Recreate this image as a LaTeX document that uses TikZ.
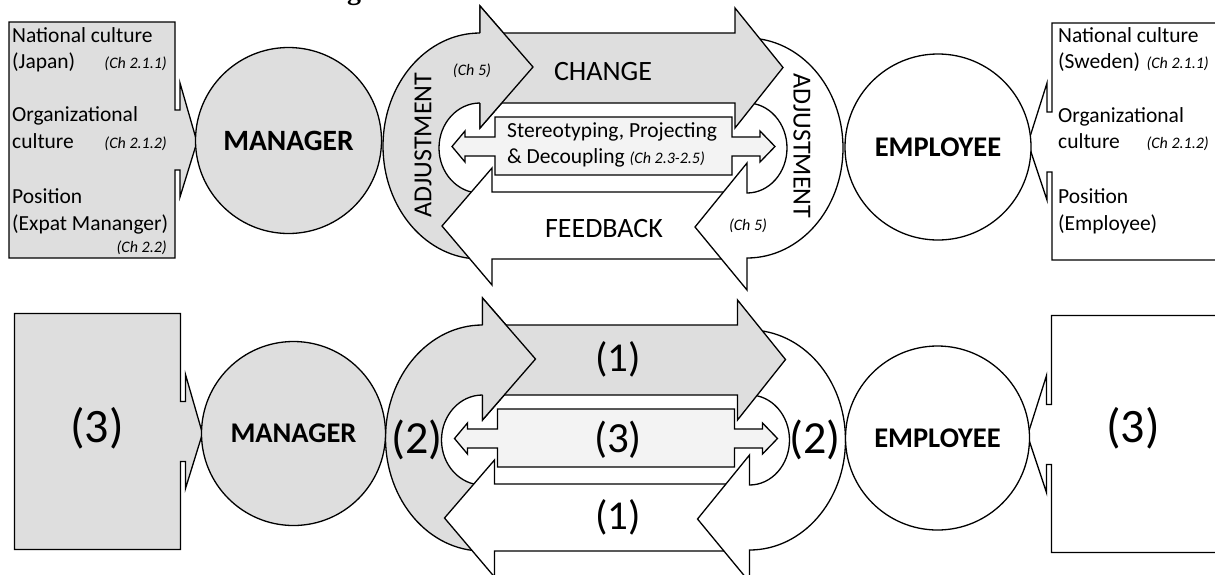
\documentclass[tikz,border=0pt]{standalone}
\usepackage{fontspec}
\setmainfont{Carlito}
\newfontfamily\serifb{Liberation Serif}
\definecolor{fillg}{RGB}{222,222,222}
\definecolor{filll}{RGB}{243,243,243}
\newcommand\fsz[1]{\fontsize{#1}{#1}\selectfont}
\newcommand\LBox[1]{%
  \draw[shp, fill=#1] (9,22) -- (175,22) -- (175,110) -- (180,110) -- (180,83) -- (197,142) -- (180,197) -- (180,170) -- (175,170) -- (175,258) -- (9,258) -- cycle;}
\newcommand\RBox{%
  \draw[shp, fill=white] (1240,23) -- (1052,23) -- (1052,112) -- (1047,112) -- (1047,83) -- (1028,143) -- (1047,200) -- (1047,172) -- (1052,172) -- (1052,260) -- (1240,260);}
\newcommand\MidShapes{%
  % left U-turn (grey)
  \draw[shp, fill=fillg] (480,33) arc[start angle=-90, end angle=-270, x radius=97, y radius=113]
     -- (480,193) arc[start angle=90, end angle=270, x radius=41, y radius=45]
     -- (480,128) -- (533,67) -- (480,6) -- cycle;
  % feedback arrow
  \draw[shp, fill=white] (737,192) -- (492,192) -- (492,168) -- (442,226) -- (492,285) -- (492,259) -- (737,259) -- cycle;
  % right U-turn (white)
  \draw[shp, fill=white] (747,38) arc[start angle=-90, end angle=90, x radius=96, y radius=110]
     -- (747,290) -- (695,227) -- (747,163) -- (747,193)
     arc[start angle=90, end angle=-90, x radius=40, y radius=45] -- cycle;
  % change arrow
  \draw[shp, fill=fillg] (490,33) -- (735,33) -- (735,8) -- (783,67.5) -- (735,128) -- (735,103) -- (490,103) -- cycle;
  % head of left U-turn on top
  \fill[fillg] (480,6) -- (533,67) -- (480,128) -- cycle;
  \draw[shp] (480,33) -- (480,6) -- (533,67) -- (480,128) -- (480,103);
  % double arrow callout
  \draw[shp, fill=filll] (495,117) -- (732,117) -- (732,137) -- (760,137) -- (760,131) -- (775,146.5) -- (760,162) -- (760,156) -- (732,156) -- (732,175) -- (495,175) -- (495,156) -- (465,156) -- (465,162) -- (452,146.5) -- (465,131) -- (465,137) -- (495,137) -- cycle;}
\begin{document}
\begin{tikzpicture}[x=1pt,y=-1pt,
  shp/.style={draw=black, line width=1.3pt, line join=miter},
  circ/.style={circle, draw=black, line width=1.3pt, inner sep=0pt},
  txt/.style={font=\fsz{21.5}, inner sep=0pt},
  chref/.style={font=\itshape\fsz{16}, inner sep=0pt},
  big/.style={font=\fsz{28}, inner sep=0pt},
  num/.style={inner sep=0pt}]
\useasboundingbox (0,0) rectangle (1215,574);
\clip (0,0) rectangle (1215,574);
\fill[white] (0,0) rectangle (1215,574);
\node[anchor=base, inner sep=0pt, font=\serifb\bfseries\fsz{28}] (gfrag) at (354,-1) {g};
% ---------------- top row ----------------
\LBox{fillg}
\RBox
\MidShapes
\node[circ, fill=fillg, minimum size=186pt, font=\bfseries\fsz{29.5}] (mgrA) at (288.5,140.5) {MANAGER};
\node[circ, fill=white, minimum size=186pt, font=\bfseries\fsz{28.5}] (empA) at (938,147) {EMPLOYEE};
% left box texts
\node[txt, anchor=base west] (la1) at (12,42) {National culture};
\node[txt, anchor=base west] (la2) at (12,68) {(Japan)};
\node[chref, anchor=base east] (la3) at (167,68) {(Ch 2.1.1)};
\node[txt, anchor=base west] (la4) at (12,121) {Organizational};
\node[txt, anchor=base west] (la5) at (12,148) {culture};
\node[chref, anchor=base east] (la6) at (167,148) {(Ch 2.1.2)};
\node[txt, anchor=base west] (la7) at (12,203) {Position};
\node[txt, anchor=base west] (la8) at (12,230) {(Expat Mananger)};
\node[chref, anchor=base east] (la9) at (167,252) {(Ch 2.2)};
% right box texts
\node[txt, anchor=base west] (ra1) at (1058,42) {National culture};
\node[txt, anchor=base west] (ra2) at (1058,68) {(Sweden)};
\node[chref, anchor=base east] (ra3) at (1209,68) {(Ch 2.1.1)};
\node[txt, anchor=base west] (ra4) at (1058,122) {Organizational};
\node[txt, anchor=base west] (ra5) at (1058,148) {culture};
\node[chref, anchor=base east] (ra6) at (1209,148) {(Ch 2.1.2)};
\node[txt, anchor=base west] (ra7) at (1058,203) {Position};
\node[txt, anchor=base west] (ra8) at (1058,230) {(Employee)};
% middle texts
\node[big] (change) at (603,71.5) {CHANGE};
\node[big] (feedback) at (604,229) {FEEDBACK};
\node[chref] (ch5a) at (472,71) {(Ch 5)};
\node[chref] (ch5b) at (748,226) {(Ch 5)};
\node[font=\fsz{26}, inner sep=0pt, rotate=90] (adjA) at (423,145) {ADJUSTMENT};
\node[font=\fsz{26}, inner sep=0pt, rotate=-90] (adjB) at (802,146) {ADJUSTMENT};
\node[txt, anchor=base west] (st1) at (507,137) {Stereotyping, Projecting};
\node[txt, anchor=base west] (st2) at (507,163) {\& Decoupling \textit{\fsz{16}(Ch 2.3-2.5)}};
% ---------------- bottom row ----------------
\begin{scope}[shift={(5.5,291.5)}]
  \LBox{fillg}
\end{scope}
\begin{scope}[shift={(-0.5,292.5)}]
  \RBox
\end{scope}
\begin{scope}[shift={(2.5,292)}]
  \MidShapes
\end{scope}
\node[circ, fill=fillg, minimum size=184pt, font=\bfseries\fsz{28.5}] (mgrB) at (293.5,433.5) {MANAGER};
\node[circ, fill=white, minimum size=184pt, font=\bfseries\fsz{28.5}] (empB) at (937.5,438) {EMPLOYEE};
\node[num, font=\fsz{48}] (n3l) at (97,428) {(3)};
\node[num, font=\fsz{48}] (n3r) at (1133,428) {(3)};
\node[num, font=\fsz{41}] (n1t) at (618,359) {(1)};
\node[num, font=\fsz{43}] (n3m) at (618,440) {(3)};
\node[num, font=\fsz{41}] (n1b) at (618,517) {(1)};
\node[num, font=\fsz{46}] (n2l) at (417,440) {(2)};
\node[num, font=\fsz{46}] (n2r) at (815,440) {(2)};
\end{tikzpicture}
\end{document}
